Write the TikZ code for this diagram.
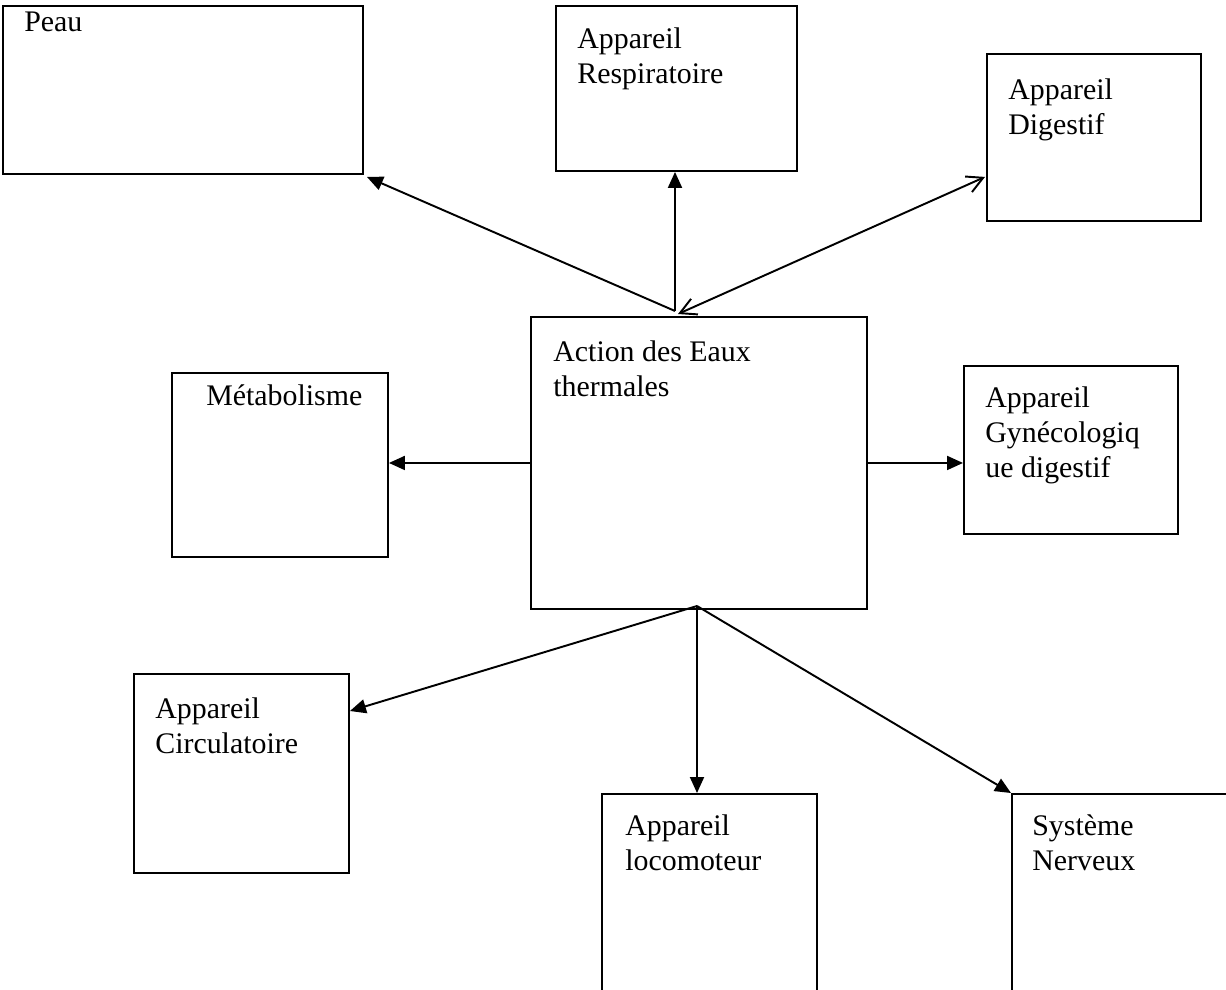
\documentclass[tikz,border=0pt]{standalone}
\usepackage{fontspec}
\setmainfont{Liberation Serif}
\usepackage{tikz}
\usetikzlibrary{arrows.meta, positioning, calc}
\tikzset{>={Triangle[length=0.32cm, width=0.28cm]}}
\tikzset{boite/.style={draw, line width=1.1pt, anchor=north west, inner sep=0pt}, texte/.style={anchor=north west, inner sep=0pt, align=left, font=\fontsize{17}{20}\selectfont}, fleche/.style={line width=1.1pt, ->}}

\begin{document}
\begin{tikzpicture}
  \useasboundingbox (0,0) rectangle (24.52,-19.78);

  % boites
  \node [boite, minimum width=7.2cm, minimum height=3.36cm] (peau) at (0.04,-0.10) {};
  \node [boite, minimum width=4.82cm, minimum height=3.30cm] (resp) at (11.10,-0.10) {};
  \node [boite, minimum width=4.28cm, minimum height=3.34cm] (dig) at (19.72,-1.06) {};
  \node [boite, minimum width=6.72cm, minimum height=5.84cm] (eaux) at (10.60,-6.32) {};
  \node [boite, minimum width=4.32cm, minimum height=3.68cm] (meta) at (3.42,-7.44) {};
  \node [boite, minimum width=4.28cm, minimum height=3.36cm] (gyn) at (19.26,-7.30) {};
  \node [boite, minimum width=4.30cm, minimum height=3.98cm] (circ) at (2.66,-13.46) {};
  \node [boite, minimum width=4.30cm, minimum height=4.30cm] (loco) at (12.02,-15.86) {};
  \node [boite, minimum width=4.50cm, minimum height=4.30cm] (nerf) at (20.22,-15.86) {};

  % textes
  \node [texte] at ($(peau.north west)+(0.44,-0.14)$) {Peau};
  \node [texte] at ($(resp.north west)+(0.44,-0.44)$) {Appareil\\Respiratoire};
  \node [texte] at ($(dig.north west)+(0.44,-0.50)$) {Appareil\\Digestif};
  \node [texte] at ($(eaux.north west)+(0.46,-0.48)$) {Action des Eaux\\thermales};
  \node [texte] at ($(meta.north west)+(0.70,-0.24)$) {Métabolisme};
  \node [texte] at ($(gyn.north west)+(0.44,-0.42)$) {Appareil\\Gynécologiq\\ue digestif};
  \node [texte] at ($(circ.north west)+(0.44,-0.48)$) {Appareil\\Circulatoire};
  \node [texte] at ($(loco.north west)+(0.48,-0.42)$) {Appareil\\locomoteur};
  \node [texte] at ($(nerf.north west)+(0.42,-0.42)$) {Système\\Nerveux};

  \coordinate (haut) at (13.50,-6.22);
  \coordinate (bas) at (13.94,-12.12);

  % fleches
  \draw [fleche] (haut) -- ($(peau.south east)+(0.06,-0.04)$);
  \draw [fleche] (haut) -- (haut |- resp.south);
  \draw [line width=1.1pt, {Straight Barb[length=0.32cm, width=0.34cm]}-{Straight Barb[length=0.32cm, width=0.34cm]}] ($(haut)+(0.06,-0.06)$) -- ($(dig.south west)+(-0.02,0.90)$);
  \draw [fleche] (eaux.west) -- (meta.east |- eaux.west);
  \draw [fleche] (eaux.east) -- (gyn.west |- eaux.east);
  \draw [fleche] (bas) -- ($(circ.north east)+(0,-0.76)$);
  \draw [fleche] (bas) -- (bas |- loco.north);
  \draw [fleche] (bas) -- (nerf.north west);

\end{tikzpicture}
\end{document}
